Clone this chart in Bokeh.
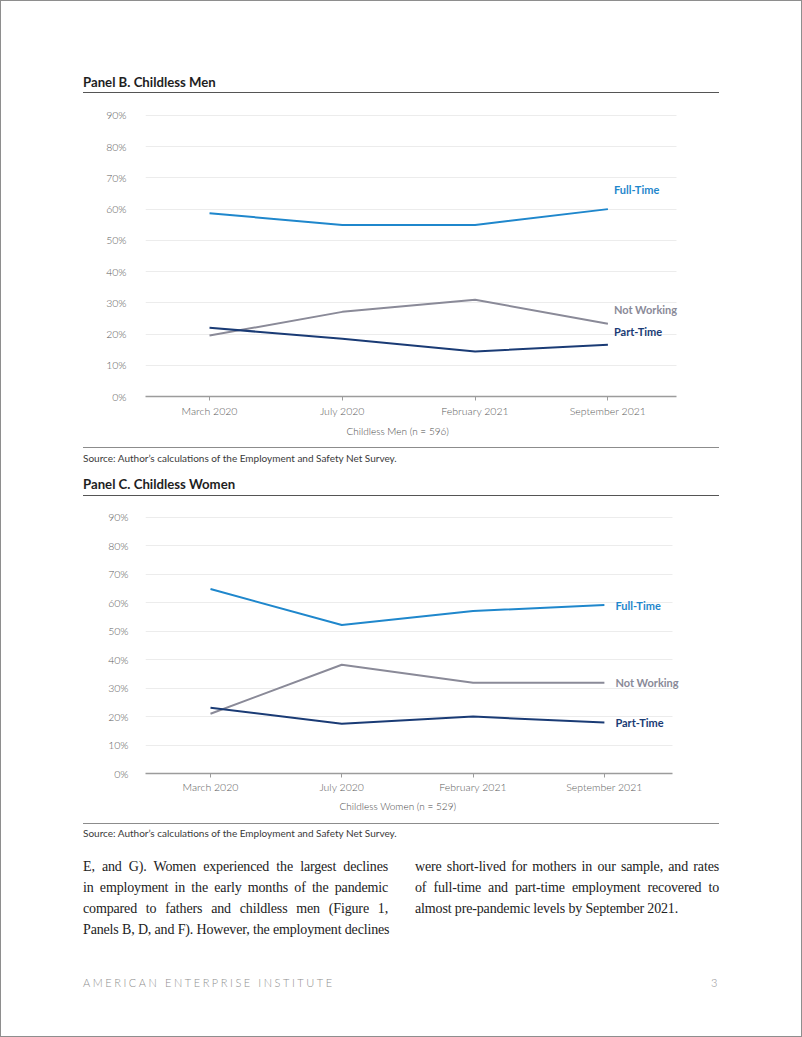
from bokeh.plotting import figure
from bokeh.models import (Range1d, FixedTicker, PrintfTickFormatter, Label, Div, Title)
from bokeh.layouts import column
from bokeh.embed import file_html
from bokeh.resources import INLINE

# ---------------- data ----------------
DATES = ["March 2020", "July 2020", "February 2021", "September 2021"]
SERIES = ["Full-Time", "Not Working", "Part-Time"]

MEN_FULL_TIME = [58.7, 54.9, 54.9, 60.0]
MEN_NOT_WORKING = [19.5, 27.1, 31.0, 23.3]
MEN_PART_TIME = [22.0, 18.5, 14.4, 16.6]

WOMEN_FULL_TIME = [64.8, 52.2, 57.1, 59.2]
WOMEN_NOT_WORKING = [21.0, 38.2, 31.9, 31.9]
WOMEN_PART_TIME = [23.1, 17.5, 20.0, 17.9]

Y_TICKS = [0, 10, 20, 30, 40, 50, 60, 70, 80, 90]

# x positions of the survey waves (one slot per date)
X_POS = list(range(len(DATES)))

# ---------------- style ----------------
COLORS = {"Full-Time": "#1f87cc", "Not Working": "#8a8a98", "Part-Time": "#1a3b75"}
FONT = "Lato"
LIGHT = "Lato Light"
TICK_COLOR = "#5c5c5c"
W = 802


def make_panel(vals, axis_label, height, top, bottom, x_start, x_axis_end, x_end,
               label_dx, label_dy, lab_standoff, title_offset, title_standoff, ylab_standoff):
    p = figure(x_range=Range1d(x_start, x_end), y_range=Range1d(0, 90.3),
               width=W, height=height,
               output_backend="svg", toolbar_location=None,
               min_border_top=top, min_border_bottom=bottom,
               min_border_left=145, min_border_right=W - 745)
    p.outline_line_color = None
    p.background_fill_alpha = 0
    p.border_fill_alpha = 0

    for name in SERIES:
        p.line(x=X_POS, y=vals[name], line_color=COLORS[name], line_width=2)

    for name, dy in zip(SERIES, label_dy):
        p.add_layout(Label(x=X_POS[-1], y=vals[name][-1], x_offset=label_dx, y_offset=dy,
                           text=name, text_color=COLORS[name],
                           text_font=FONT, text_font_style="bold",
                           text_font_size="11px", text_baseline="middle",
                           text_align="left"))

    xa = p.xaxis[0]
    xa.ticker = FixedTicker(ticks=X_POS)
    xa.major_label_overrides = {x: d for x, d in zip(X_POS, DATES)}
    xa.bounds = (x_start, x_axis_end)
    xa.axis_line_color = "#9c9c9c"
    xa.axis_line_width = 1.5
    xa.major_tick_line_color = "#9c9c9c"
    xa.major_tick_out = 4
    xa.major_tick_in = 0
    xa.minor_tick_line_color = None
    xa.major_label_text_font = LIGHT
    xa.major_label_text_font_size = "10.5px"
    xa.major_label_text_color = TICK_COLOR
    xa.major_label_standoff = lab_standoff

    # x-axis caption, centred under the axis line (not under the wider frame)
    p.add_layout(Title(text=axis_label, align="left", offset=title_offset,
                       standoff=title_standoff,
                       text_font=LIGHT, text_font_style="normal",
                       text_font_size="10px", text_color="#4a4a4a"), "below")

    ya = p.yaxis[0]
    ya.ticker = FixedTicker(ticks=Y_TICKS)
    ya.formatter = PrintfTickFormatter(format="%d%%")
    ya.axis_line_color = None
    ya.major_tick_line_color = None
    ya.minor_tick_line_color = None
    ya.major_label_text_font = LIGHT
    ya.major_label_text_font_size = "10.5px"
    ya.major_label_text_color = TICK_COLOR
    ya.major_label_standoff = ylab_standoff

    p.xgrid.grid_line_color = None
    p.ygrid.grid_line_color = "#ececec"
    p.ygrid.grid_line_width = 1
    try:
        p.ygrid[0].cross_bounds = (x_start, x_axis_end)
    except Exception:
        pass
    return p


men = {"Full-Time": MEN_FULL_TIME, "Not Working": MEN_NOT_WORKING, "Part-Time": MEN_PART_TIME}
women = {"Full-Time": WOMEN_FULL_TIME, "Not Working": WOMEN_NOT_WORKING, "Part-Time": WOMEN_PART_TIME}

# frame spans x = 145 .. 745 px on the page
pB = make_panel(men, "Childless Men (n = 596)", 344, 14, 48,
                -0.482, 3.516, -0.482 + 600 / 132.8,
                6, [20, 14, 13], 4, 201, 6, 13)
pC = make_panel(women, "Childless Women (n = 529)", 318, 14, 47,
                -0.495, 3.518, -0.495 + 600 / 131.3,
                11, [0, 0, 0], 3, 194, 4, 11)

SANS = "font-family:Lato,sans-serif;"
TITLE = SANS + "position:absolute;left:83px;font-weight:bold;font-size:13.2px;line-height:16px;color:#1e1e1e;white-space:nowrap;"
SOURCE = SANS + "position:absolute;left:83px;font-size:10px;line-height:12px;color:#3a3a3a;white-space:nowrap;"


def rule(top, color, h):
    return ('<div style="position:absolute;left:83px;top:%spx;width:636px;height:%spx;background:%s;"></div>'
            % (top, h, color))


SOURCE_TEXT = "Source: Author\u2019s calculations of the Employment and Safety Net Survey."

div1 = Div(width=W, height=100, margin=0, text=(
    '<div style="position:relative;width:802px;height:100px;">'
    '<div style="position:absolute;left:0px;top:0px;width:802px;height:1037px;box-sizing:border-box;'
    'border:1px solid #8e8e8e;pointer-events:none;z-index:10;"></div>'
    '<div style="' + TITLE + 'top:74px;">Panel B. Childless Men</div>'
    + rule(91.5, "#555", 1.5) +
    '</div>'))

div2 = Div(width=W, height=58, margin=0, text=(
    '<div style="position:relative;width:802px;height:58px;">'
    + rule(2.5, "#8c8c8c", 1) +
    '<div style="' + SOURCE + 'top:8px;">' + SOURCE_TEXT + '</div>'
    '<div style="' + TITLE + 'top:32px;">Panel C. Childless Women</div>'
    + rule(50.5, "#555", 1.5) +
    '</div>'))

SERIF = "font-family:'Liberation Serif',serif;font-size:14px;line-height:21px;color:#222;letter-spacing:-0.15px;"


def jline(txt, last=False):
    al = "left" if last else "justify"
    return ('<div style="white-space:nowrap;text-align:%s;text-align-last:%s;">%s</div>' % (al, al, txt))


left_lines = ["E, and G). Women experienced the largest declines",
              "in employment in the early months of the pandemic",
              "compared to fathers and childless men (Figure 1,",
              "Panels B, D, and F). However, the employment declines"]
right_lines = ["were short-lived for mothers in our sample, and rates",
               "of full-time and part-time employment recovered to",
               "almost pre-pandemic levels by September 2021."]

div3 = Div(width=W, height=217, margin=0, text=(
    '<div style="position:relative;width:802px;height:217px;">'
    + rule(2.5, "#8c8c8c", 1) +
    '<div style="' + SOURCE + 'top:7px;">' + SOURCE_TEXT + '</div>'
    '<div style="position:absolute;left:83px;top:35.5px;width:305px;' + SERIF + '">'
    + "".join(jline(t) for t in left_lines) + '</div>'
    '<div style="position:absolute;left:415px;top:35.5px;width:304px;' + SERIF + '">'
    + "".join(jline(t, i == len(right_lines) - 1) for i, t in enumerate(right_lines)) + '</div>'
    '<div style="font-family:\'Lato Light\',Lato,sans-serif;position:absolute;left:83px;top:155px;font-size:11px;line-height:16px;'
    'letter-spacing:2.55px;color:#8e8e8e;white-space:nowrap;">AMERICAN ENTERPRISE INSTITUTE</div>'
    '<div style="font-family:\'Lato Light\',Lato,sans-serif;position:absolute;left:711px;top:155px;font-size:11px;line-height:16px;'
    'color:#8e8e8e;">3</div>'
    '</div>'))

layout = column(div1, pB, div2, pC, div3, spacing=0)

open("out.html", "w").write(file_html(layout, INLINE))
